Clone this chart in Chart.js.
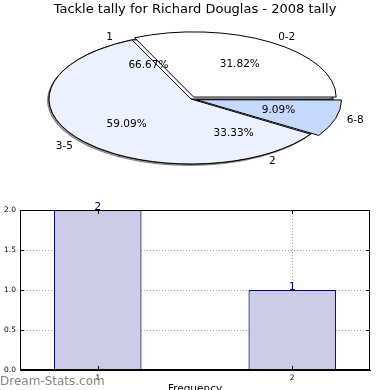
<!DOCTYPE html>
<html>
<head>
<meta charset="utf-8">
<script src="https://cdn.jsdelivr.net/npm/chart.js@4"></script>
<style>
    body { margin: 0; background: #fff; }
    #wrap { position: relative; width: 390px; height: 390px; overflow: hidden; font-family: "DejaVu Sans"; }
    #title { position: absolute; left: 0; top: 0; width: 390px; text-align: center; font-size: 13px; line-height: 18px; color: #000; z-index: 5; }
    #stamp { position: absolute; left: 0; top: 374px; font-size: 12px; line-height: 14px; color: #858585; z-index: 5; }
    canvas { position: absolute; left: 0; }
</style>
</head>
<body>
<div id="wrap">
    <div id="title">Tackle tally for Richard Douglas - 2008 tally</div>
    <canvas id="freqPie" width="390" height="200" style="top:0"></canvas>
    <canvas id="rangePie" width="390" height="200" style="top:0"></canvas>
    <canvas id="freqBar" width="390" height="195" style="top:195px"></canvas>
    <div id="stamp">Dream-Stats.com</div>
</div>
<script>
const freqLabels = ['1', '2']
const freqCounts = [2, 1]

const rangeLabels = ['0-2', '3-5', '6-8']
const rangeCounts = [7, 13, 2]

const barX = [1, 2]
const barCounts = [2, 1]
const yTicks = [0, 0.5, 1, 1.5, 2]

Chart.defaults.font.family = 'DejaVu Sans'
Chart.defaults.color = '#000'

// the pies are drawn flat (ellipse), like the original
const squash = 65 / 142

const flatten = {
    id: 'flatten',
    beforeDatasetsDraw(chart, args, opts) {
        let ctx = chart.ctx
        let arc = chart.getDatasetMeta(0).data[0]
        ctx.save()
        ctx.translate(arc.x, arc.y)
        ctx.scale(1, squash)
        ctx.translate(-arc.x, -arc.y)
        if (opts.shadow) {
            ctx.shadowColor = 'rgba(60,60,60,0.5)'
            ctx.shadowOffsetX = -1.5
            ctx.shadowOffsetY = 1.5
        }
        // keep the outline 1px everywhere
        ctx.stroke = function () {
            this.save()
            this.setTransform(1, 0, 0, 1, 0, 0)
            CanvasRenderingContext2D.prototype.stroke.call(this)
            this.restore()
        }
    },
    afterDatasetsDraw(chart) {
        delete chart.ctx.stroke
        chart.ctx.restore()
    }
}

// matplotlib draws counter-clockwise from 3 o'clock, chart.js clockwise
const pieOptions = (shadow) => ({
    responsive: false,
    animation: false,
    events: [],
    rotation: 90,
    radius: 142,
    layout: { padding: { right: 8, bottom: 2 } },
    plugins: {
        legend: { display: false },
        tooltip: { enabled: false },
        flatten: { shadow: shadow }
    }
})

let freqChart = new Chart(document.getElementById('freqPie'), {
    type: 'pie',
    data: {
        labels: freqLabels.slice().reverse(),
        datasets: [{
            data: freqCounts.slice().reverse(),
            backgroundColor: '#ffffff',
            borderColor: '#000000',
            borderWidth: 1,
            offset: 0,
            clip: false
        }]
    },
    options: pieOptions(true),
    plugins: [flatten]
})

const pieText = {
    id: 'pieText',
    afterDraw(chart) {
        let ctx = chart.ctx
        ctx.save()
        ctx.font = '10.5px "DejaVu Sans"'
        ctx.fillStyle = '#000'
        ctx.textBaseline = 'middle'
        ;[freqChart, chart].forEach((c) => {
            let vals = c.data.datasets[0].data
            let names = c.data.labels
            let total = vals.reduce((a, b) => a + b, 0)
            c.getDatasetMeta(0).data.forEach((arc, i) => {
                let p = arc.getProps(['x', 'y', 'startAngle', 'endAngle', 'outerRadius'], true)
                let mid = (p.startAngle + p.endAngle) / 2
                let shift = (arc.options.offset || 0) / 4
                let cos = Math.cos(mid), sin = Math.sin(mid)

                let d = p.outerRadius * 1.1 + shift
                ctx.textAlign = cos > 0 ? 'left' : 'right'
                ctx.fillText(names[i], p.x + cos * d, p.y + sin * d * squash)

                d = p.outerRadius * 0.6 + shift
                ctx.textAlign = 'center'
                ctx.fillText((vals[i] / total * 100).toFixed(2) + '%', p.x + cos * d, p.y + sin * d * squash)
            })
        })
        ctx.restore()
    }
}

let rangeChart = new Chart(document.getElementById('rangePie'), {
    type: 'pie',
    data: {
        labels: rangeLabels.slice().reverse(),
        datasets: [{
            data: rangeCounts.slice().reverse(),
            backgroundColor: ['#c6d9fd', '#ebf1ff', '#ffffff'],
            borderColor: '#000000',
            borderWidth: 1,
            offset: [24, 0, 20],
            clip: false
        }]
    },
    options: pieOptions(false),
    plugins: [flatten, pieText]
})

// frame, inward ticks and value labels
const frame = {
    id: 'frame',
    afterDraw(chart) {
        let ctx = chart.ctx
        let a = chart.chartArea
        let xs = chart.scales.x, ys = chart.scales.y
        ctx.save()
        ctx.strokeStyle = '#000'
        ctx.lineWidth = 1
        ctx.strokeRect(Math.round(a.left) + 0.5, Math.round(a.top) + 0.5, Math.round(a.width) - 1, Math.round(a.height) - 1)
        ctx.beginPath()
        yTicks.forEach((v) => {
            let y = Math.round(ys.getPixelForValue(v)) + 0.5
            ctx.moveTo(a.left, y); ctx.lineTo(a.left + 4, y)
            ctx.moveTo(a.right, y); ctx.lineTo(a.right - 4, y)
        })
        barX.forEach((v) => {
            let x = Math.round(xs.getPixelForValue(v)) + 0.5
            ctx.moveTo(x, a.bottom); ctx.lineTo(x, a.bottom - 4)
            ctx.moveTo(x, a.top); ctx.lineTo(x, a.top + 4)
        })
        ctx.stroke()

        ctx.fillStyle = '#000080'
        ctx.font = '11px "DejaVu Sans"'
        ctx.textAlign = 'center'
        ctx.textBaseline = 'alphabetic'
        chart.getDatasetMeta(0).data.forEach((bar, i) => {
            ctx.fillText(String(barCounts[i]), bar.x, bar.y)
        })
        ctx.restore()
    }
}

const dotted = {
    color: 'rgba(0,0,0,0.35)',
    lineWidth: 1,
    drawTicks: false,
    offset: false
}

let barChart = new Chart(document.getElementById('freqBar'), {
    type: 'bar',
    data: {
        datasets: [{
            data: barX.map((x, i) => ({ x: x, y: barCounts[i] })),
            backgroundColor: '#ccccE6',
            borderColor: '#000080',
            borderWidth: 1.2,
            barPercentage: 0.45,
            categoryPercentage: 1
        }]
    },
    options: {
        responsive: false,
        animation: false,
        events: [],
        layout: { padding: { top: 15, right: 20, left: 0, bottom: 0 } },
        plugins: {
            legend: { display: false },
            tooltip: { enabled: false }
        },
        scales: {
            x: {
                type: 'linear',
                min: 0.6,
                max: 2.4,
                offset: false,
                z: 1,
                afterBuildTicks: (s) => { s.ticks = barX.map((v) => ({ value: v })) },
                afterFit: (s) => { s.height = 20 },
                grid: dotted,
                border: { display: true, color: '#000', dash: [1, 2] },
                ticks: { font: { size: 7.5 }, padding: 4, callback: (v) => String(v) },
                title: { display: true, text: 'Frequency', font: { size: 10.5 }, padding: { top: 0, bottom: -6 } }
            },
            y: {
                min: 0,
                max: 2,
                afterBuildTicks: (s) => { s.ticks = yTicks.map((v) => ({ value: v })) },
                afterFit: (s) => { s.width = 20 },
                grid: dotted,
                border: { display: true, color: '#000', dash: [1, 2] },
                ticks: { font: { size: 7.5 }, padding: 4, callback: (v) => v.toFixed(1) }
            }
        }
    },
    plugins: [frame]
})
</script>
</body>
</html>
